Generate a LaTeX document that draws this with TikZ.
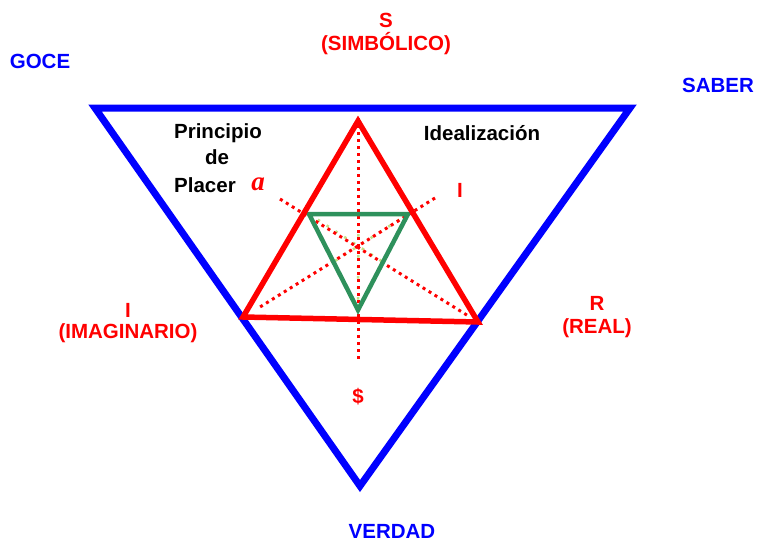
\documentclass[tikz,border=0pt]{standalone}
\usepackage{fontspec}
\usetikzlibrary{calc}
\setmainfont{Liberation Sans}
\newfontfamily\serifit{Liberation Serif}
\definecolor{tblue}{RGB}{0,0,255}
\definecolor{tred}{RGB}{255,0,0}
\definecolor{tgreen}{RGB}{46,145,92}
\definecolor{tlight}{RGB}{170,210,80}
\begin{document}
\begin{tikzpicture}[x=1pt,y=-1pt,
  lbl/.style={font=\fontsize{20.5}{23}\selectfont\bfseries, inner sep=0pt, align=center},
  blu/.style={lbl, text=tblue},
  rd/.style={lbl, text=tred},
  blk/.style={lbl, text=black},
  bluetri/.style={draw=tblue, line width=7pt, line join=miter},
  redtri/.style={draw=tred, line width=5.5pt, line join=miter},
  greentri/.style={draw=tgreen, line width=4.5pt, line join=miter},
  reddots/.style={draw=tred, line width=3pt, dash pattern=on 3pt off 4pt},
  greendots/.style={draw=tlight, line width=2.5pt, dash pattern=on 2.5pt off 8pt, opacity=0.7}]
\useasboundingbox (0,0) rectangle (758,542);
% blue triangle
\coordinate (B1) at (95,108);
\coordinate (B2) at (630,108);
\coordinate (B3) at (360,486);
\draw[bluetri] (B1) -- (B2) -- (B3) -- cycle;
% green triangle + faint dotted medians
\coordinate (G1) at (309,214);
\coordinate (G2) at (408,214);
\coordinate (G3) at (358,310);
\draw[greendots] (G1) -- ($(G2)!0.5!(G3)$);
\draw[greendots] (G2) -- ($(G1)!0.5!(G3)$);
\draw[greendots] (G3) -- ($(G1)!0.5!(G2)$);
% red dotted lines
\coordinate (V1) at (358,118);
\coordinate (V2) at (358,362);
\coordinate (D1a) at (280,199);
\coordinate (D1b) at (470,317);
\coordinate (D2a) at (435,198);
\coordinate (D2b) at (260,307);
\draw[reddots] (V1) -- (V2);
\draw[reddots] (D1a) -- (D1b);
\draw[reddots] (D2a) -- (D2b);
% green triangle
\draw[greentri] (G1) -- (G2) -- (G3) -- cycle;
% red triangle
\coordinate (R1) at (358,121);
\coordinate (R2) at (243,317);
\coordinate (R3) at (478,322);
\draw[redtri] (R1) -- (R2) -- (R3) -- cycle;
% labels
\node[blu] (goce) at (40,61) {GOCE};
\node[blu] (saber) at (718,85) {SABER};
\node[blu] (verdad) at (392,531) {VERDAD};
\node[rd] (s) at (386,20) {S};
\node[rd] (simb) at (386,44) {(SIMBÓLICO)};
\node[rd] (i1) at (128,310) {I};
\node[rd] (imag) at (128,333) {(IMAGINARIO)};
\node[rd] (r) at (597,303) {R};
\node[rd] (real) at (597,328) {(REAL)};
\node[rd] (dollar) at (358,397) {\$};
\node[rd] (i2) at (460,190) {I};
\node[text=tred, inner sep=0pt] (a) at (258,184) {\fontsize{27}{29}\selectfont\serifit\bfseries\itshape a};
\node[blk] (p1) at (218,133) {Principio};
\node[blk] (p2) at (217,157) {de};
\node[blk] (p3) at (205,185) {Placer};
\node[blk] (ideal) at (482,133) {Idealización};
\end{tikzpicture}
\end{document}
